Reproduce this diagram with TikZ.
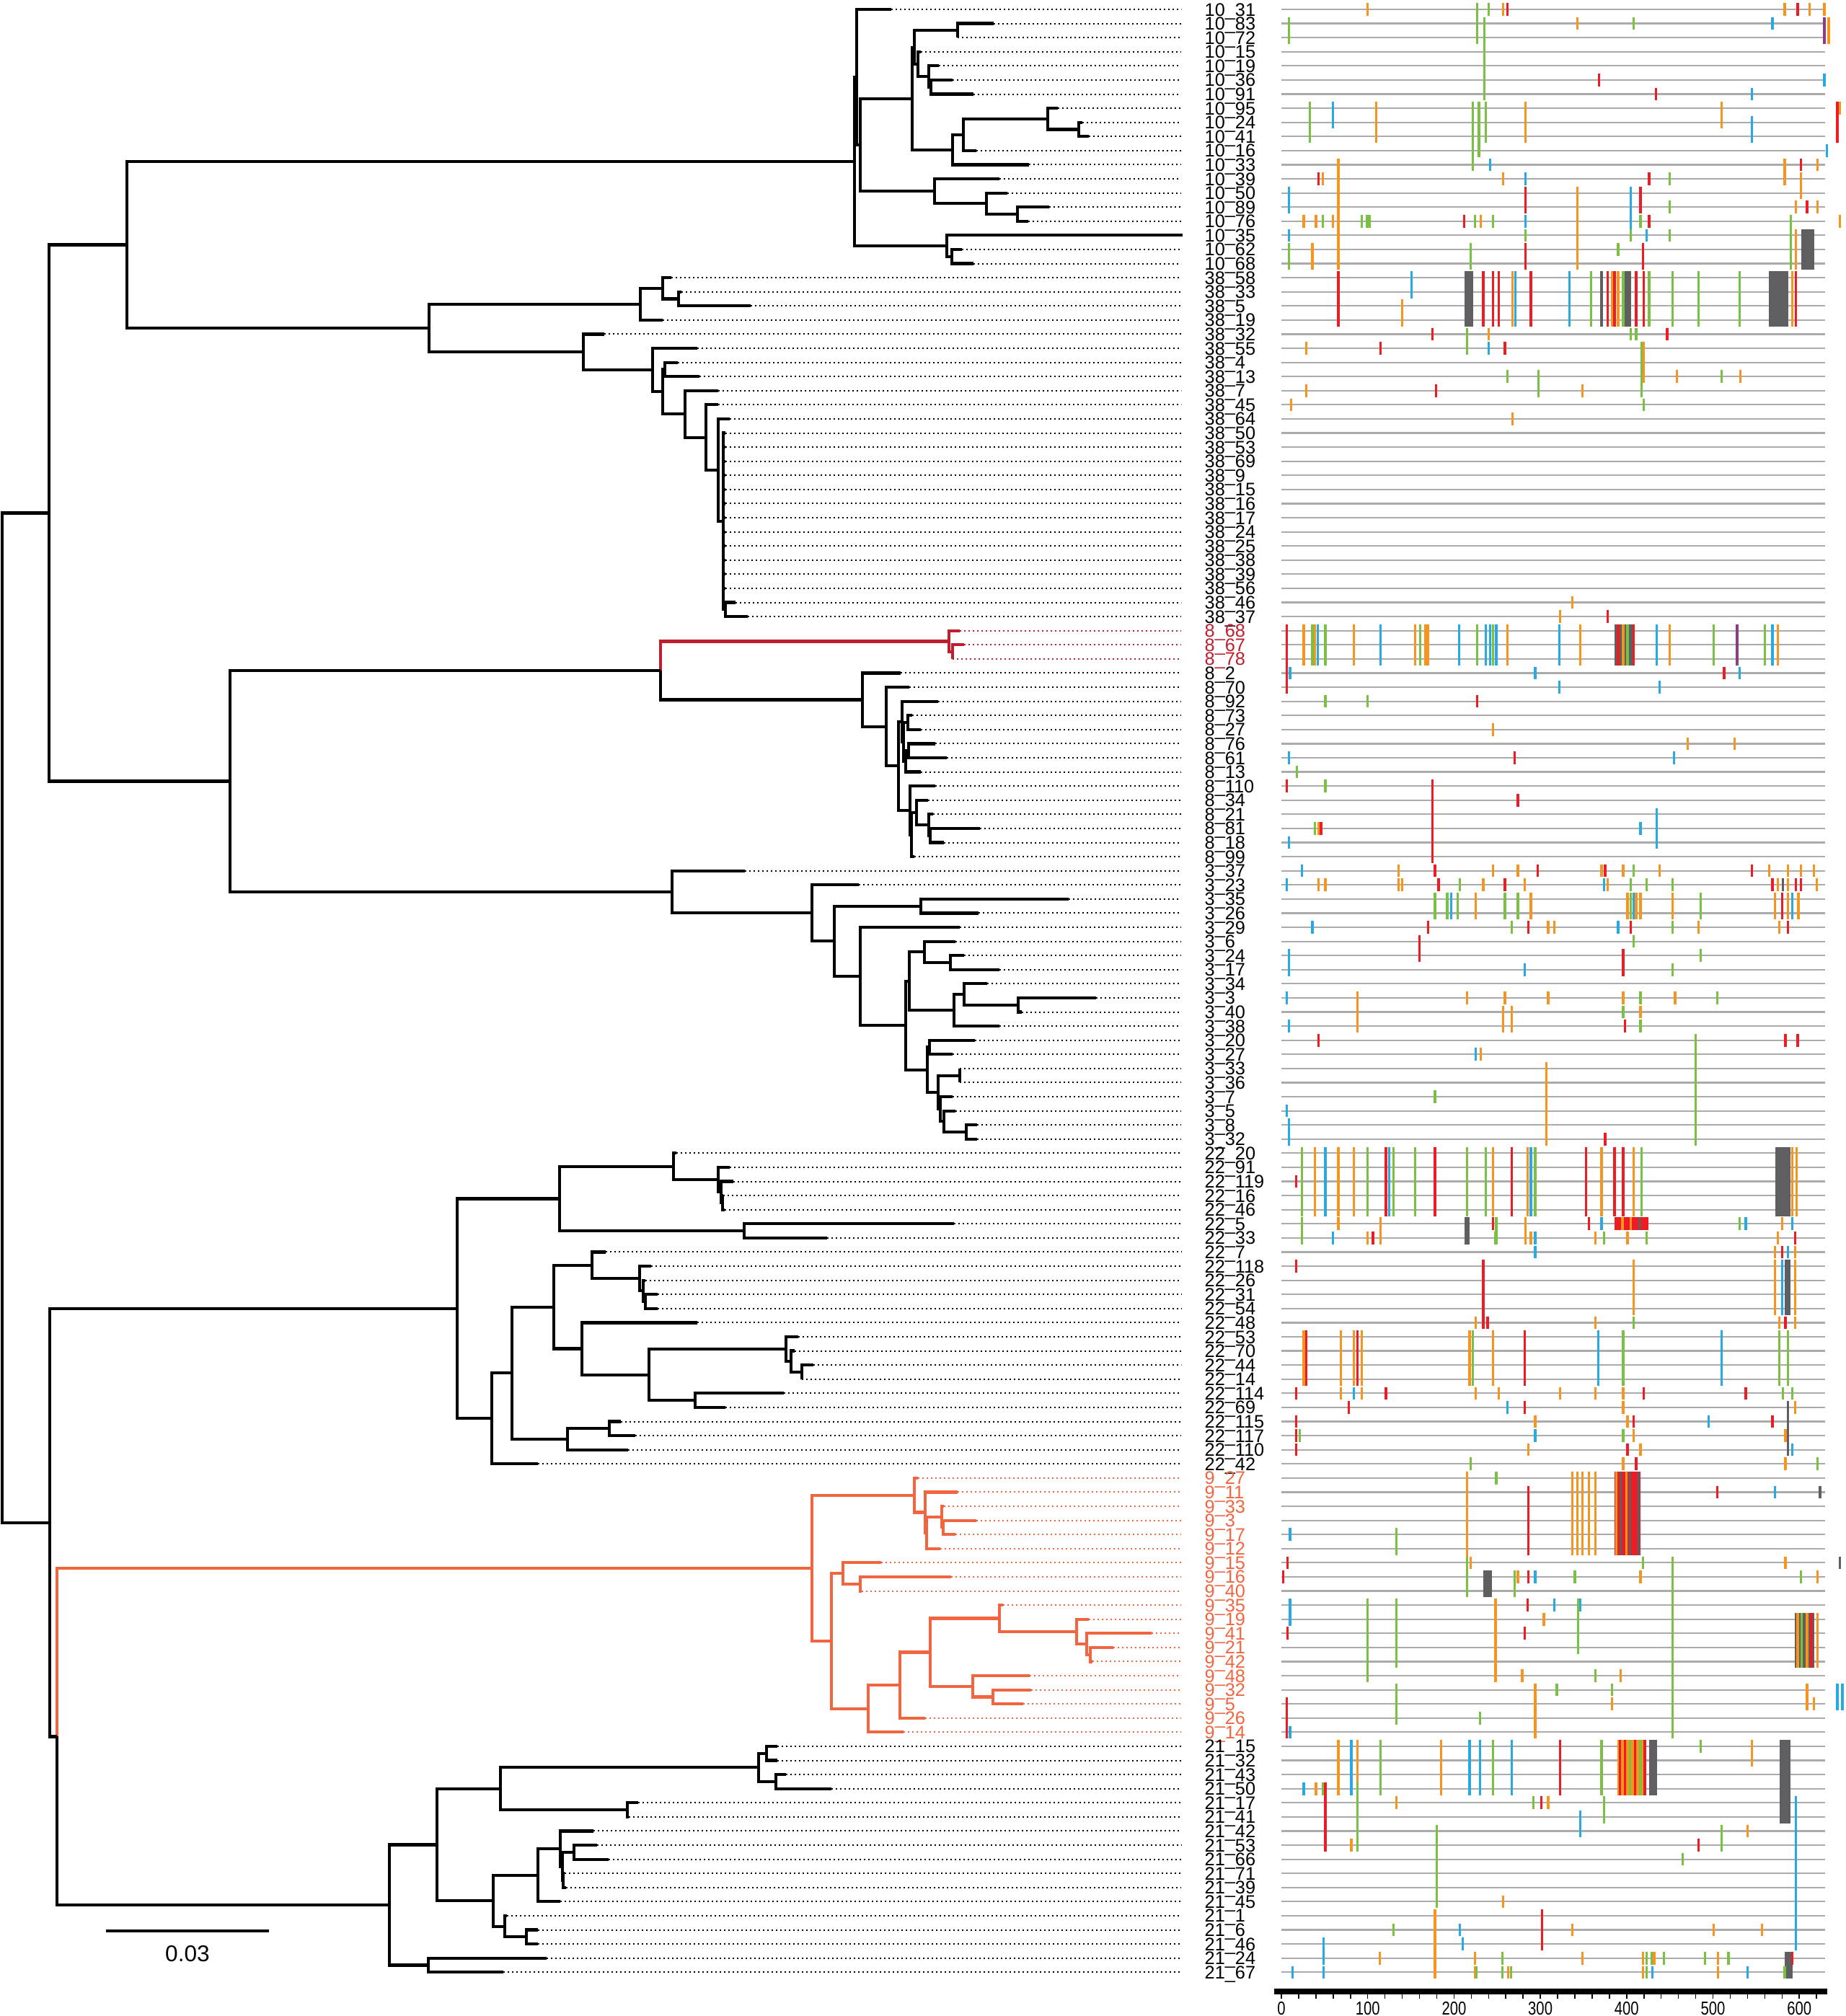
\documentclass[tikz,border=0pt]{standalone}
\usepackage{fontspec}
\setmainfont{Liberation Sans}
\newfontfamily\axisfont[FakeStretch=0.78]{Liberation Sans}
\usetikzlibrary{calc}

\definecolor{treered}{RGB}{190,30,45}
\definecolor{treeorange}{RGB}{241,101,65}
\definecolor{aO}{RGB}{247,148,29}
\definecolor{aG}{RGB}{122,193,66}
\definecolor{aB}{RGB}{39,170,225}
\definecolor{aR}{RGB}{237,28,36}
\definecolor{aK}{RGB}{95,95,97}
\definecolor{aP}{RGB}{140,60,130}

\tikzset{
  branch/.style={line width=0.42mm},
  leafdots/.style={line width=0.2mm, dash pattern=on 0.2mm off 0.4mm},
  leaflabel/.style={anchor=base west, inner sep=0pt, font=\fontsize{7.2}{8}\selectfont},
  seqline/.style={line width=0.22mm, draw=black!33},
  seqtick/.style={line width=0.33mm},
  axislabel/.style={inner sep=0pt, font=\axisfont\fontsize{7.4}{8}\selectfont},
}

% internal node: name, x, upper child, lower child (option = colour of upper half)
\newcommand\nd[5][]{%
  \coordinate (#2m) at ($(#4)!.5!(#5)$);
  \coordinate (#2) at (perpendicular cs: horizontal line through={(#2m)}, vertical line through={(#3,0)});
  \draw[branch,#1] (#4) -| (#2);
  \draw[branch] (#2) |- (#5);
}

\begin{document}
\begin{tikzpicture}[x=0.1mm, y=-1.9585mm]
\useasboundingbox (0,0.336) rectangle (2559,143.1);

% leaves
\foreach \tp/\cl/\nm [count=\i] in {1236/10/31,1378/10/83,1328/10/72,1277/10/15,1302/10/19,1321/10/36,1350/10/91,1467/10/95,1501/10/24,1510/10/41,1354/10/16,1427/10/33,1386/10/39,1397/10/50,1455/10/89,1426/10/76,1640/10/35,1334/10/62,1350/10/68,
  931/38/58,945/38/33,1041/38/5,919/38/19,838/38/32,967/38/55,940/38/4,970/38/13,996/38/7,996/38/45,1012/38/64,1006/38/50,1006/38/53,1006/38/69,1006/38/9,1006/38/15,1006/38/16,1006/38/17,1006/38/24,1006/38/25,1006/38/38,1006/38/39,1006/38/56,1020/38/46,1037/38/37}{
  \coordinate (L\i) at (\tp,\i);
  \draw[leafdots] (L\i) -- (1638,\i);
  \node[leaflabel] (T\i) at (1670,\i+.46) {\cl\_\nm};
}
\begin{scope}[treered]
\foreach \tp/\nm [count=\i from 45] in {1331/68,1337/67,1321/78}{
  \coordinate (L\i) at (\tp,\i);
  \draw[leafdots] (L\i) -- (1638,\i);
  \node[leaflabel] (T\i) at (1670,\i+.46) {8\_\nm};
}
\end{scope}
\foreach \tp/\cl/\nm [count=\i from 48] in {1249/8/2,1261/8/70,1301/8/92,1265/8/73,1277/8/27,1297/8/76,1313/8/61,1277/8/13,1297/8/110,1287/8/34,1294/8/21,1359/8/81,1309/8/18,1268/8/99,
  1033/3/37,1191/3/23,1482/3/35,1357/3/26,1331/3/29,1325/3/6,1337/3/24,1386/3/17,1369/3/34,1520/3/3,1417/3/40,1386/3/38,1352/3/20,1321/3/27,1331/3/33,1331/3/36,1321/3/7,1325/3/5,1355/3/8,1355/3/32,
  938/22/20,1012/22/91,1017/22/119,1003/22/16,1005/22/46,1323/22/5,1147/22/33,840/22/7,903/22/118,895/22/26,912/22/31,912/22/54,967/22/48,1107/22/53,1102/22/70,1128/22/44,1112/22/14,1087/22/114,1006/22/69,861/22/115,881/22/117,871/22/110,746/22/42}{
  \coordinate (L\i) at (\tp,\i);
  \draw[leafdots] (L\i) -- (1638,\i);
  \node[leaflabel] (T\i) at (1670,\i+.46) {\cl\_\nm};
}
\begin{scope}[treeorange]
\foreach \tp/\nm [count=\i from 105] in {1273/27,1328/11,1309/33,1354/3,1325/17,1304/12,1222/15,1319/16,1195/40,1391/35,1510/19,1597/41,1544/21,1515/42,1428/48,1430/32,1419/5,1283/26,1253/14}{
  \coordinate (L\i) at (\tp,\i);
  \draw[leafdots] (L\i) -- (1638,\i);
  \node[leaflabel] (T\i) at (1670,\i+.46) {9\_\nm};
}
\end{scope}
\foreach \tp/\cl/\nm [count=\i from 124] in {1078/21/15,1078/21/32,1090/21/43,1153/21/50,885/21/17,872/21/41,823/21/42,828/21/53,844/21/66,783/21/71,785/21/39,777/21/45,703/21/1,746/21/6,746/21/46,758/21/24,698/21/67}{
  \coordinate (L\i) at (\tp,\i);
  \draw[leafdots] (L\i) -- (1638,\i);
  \node[leaflabel] (T\i) at (1670,\i+.46) {\cl\_\nm};
}

% clade 10
\nd{n6x7}{1291}{L6}{L7}
\nd{n5x7}{1288}{L5}{n6x7}
\nd{n4x7}{1273}{L4}{n5x7}
\nd{n2x3}{1328}{L2}{L3}
\nd{n2x7}{1268}{n2x3}{n4x7}
\nd{n9x10}{1496}{L9}{L10}
\nd{n8x10}{1453}{L8}{n9x10}
\nd{n8x11}{1336}{n8x10}{L11}
\nd{n8x12}{1321}{n8x11}{L12}
\nd{n2x12}{1265}{n2x7}{n8x12}
\nd{n15x16}{1411}{L15}{L16}
\nd{n14x16}{1368}{L14}{n15x16}
\nd{n13x16}{1296}{L13}{n14x16}
\nd{n2x16}{1193}{n2x12}{n13x16}
\nd{n1x16}{1188}{L1}{n2x16}
\nd{n18x19}{1320}{L18}{L19}
\nd{n17x19}{1313}{L17}{n18x19}
\nd{n1x19}{1185}{n1x16}{n17x19}

% clade 38
\nd{n21x22}{941}{L21}{L22}
\nd{n20x22}{919}{L20}{n21x22}
\nd{n20x23}{888}{n20x22}{L23}
\nd{n26x27}{922}{L26}{L27}
\nd{n43x44}{1006}{L43}{L44}
\nd{n31x44}{1003}{L31}{n43x44}
\foreach \k in {32,...,42} \draw[branch] (n31x44 |- L\k) -- (L\k);
\nd{n30x44}{996}{L30}{n31x44}
\nd{n29x44}{979}{L29}{n30x44}
\nd{n28x44}{950}{L28}{n29x44}
\nd{n26x44}{919}{n26x27}{n28x44}
\nd{n25x44}{905}{L25}{n26x44}
\nd{n24x44}{809}{L24}{n25x44}
\nd{n20x44}{595}{n20x23}{n24x44}
\nd{n1x44}{176}{n1x19}{n20x44}

% clade 8
\begin{scope}[treered]
\nd{n46x47}{1321}{L46}{L47}
\nd{n45x47}{1316}{L45}{n46x47}
\end{scope}
\nd{n51x52}{1259}{L51}{L52}
\nd{n53x54}{1260}{L53}{L54}
\nd{n53x55}{1256}{n53x54}{L55}
\nd{n51x55}{1253}{n51x52}{n53x55}
\nd{n50x55}{1251}{L50}{n51x55}
\nd{n59x60}{1290}{L59}{L60}
\nd{n58x60}{1288}{L58}{n59x60}
\nd{n57x60}{1271}{L57}{n58x60}
\nd{n57x61}{1264}{n57x60}{L61}
\nd{n56x61}{1262}{L56}{n57x61}
\nd{n50x61}{1246}{n50x55}{n56x61}
\nd{n49x61}{1229}{L49}{n50x61}
\nd{n48x61}{1196}{L48}{n49x61}
\nd[treered]{n45x61}{916}{n45x47}{n48x61}

% clade 3
\nd{n64x65}{1277}{L64}{L65}
\nd{n68x69}{1318}{L68}{L69}
\nd{n67x69}{1282}{L67}{n68x69}
\nd{n71x72}{1412}{L71}{L72}
\nd{n70x72}{1337}{L70}{n71x72}
\nd{n70x73}{1323}{n70x72}{L73}
\nd{n67x73}{1261}{n67x69}{n70x73}
\nd{n74x75}{1289}{L74}{L75}
\nd{n76x77}{1331}{L76}{L77}
\nd{n80x81}{1340}{L80}{L81}
\nd{n79x81}{1309}{L79}{n80x81}
\nd{n78x81}{1304}{L78}{n79x81}
\nd{n76x81}{1301}{n76x77}{n78x81}
\nd{n74x81}{1286}{n74x75}{n76x81}
\nd{n67x81}{1256}{n67x73}{n74x81}
\nd{n66x81}{1193}{L66}{n67x81}
\nd{n64x81}{1157}{n64x65}{n66x81}
\nd{n63x81}{1126}{L63}{n64x81}
\nd{n62x81}{932}{L62}{n63x81}
\nd{n45x81}{319}{n45x61}{n62x81}
\nd{n1x81}{68}{n1x44}{n45x81}

% clade 22
\nd{n85x86}{1002}{L85}{L86}
\nd{n84x86}{1000}{L84}{n85x86}
\nd{n83x86}{996}{L83}{n84x86}
\nd{n82x86}{934}{L82}{n83x86}
\nd{n87x88}{1032}{L87}{L88}
\nd{n82x88}{776}{n82x86}{n87x88}
\nd{n92x93}{895}{L92}{L93}
\nd{n91x93}{892}{L91}{n92x93}
\nd{n90x93}{887}{L90}{n91x93}
\nd{n89x93}{821}{L89}{n90x93}
\nd{n97x98}{1112}{L97}{L98}
\nd{n96x98}{1097}{L96}{n97x98}
\nd{n95x98}{1090}{L95}{n96x98}
\nd{n99x100}{964}{L99}{L100}
\nd{n95x100}{900}{n95x98}{n99x100}
\nd{n94x100}{807}{L94}{n95x100}
\nd{n89x100}{768}{n89x93}{n94x100}
\nd{n101x102}{845}{L101}{L102}
\nd{n101x103}{787}{n101x102}{L103}
\nd{n89x103}{710}{n89x100}{n101x103}
\nd{n89x104}{682}{n89x103}{L104}
\nd{n82x104}{634}{n82x88}{n89x104}

% clade 9
\begin{scope}[treeorange]
\nd{n108x109}{1308}{L108}{L109}
\nd{n107x109}{1306}{L107}{n108x109}
\nd{n107x110}{1285}{n107x109}{L110}
\nd{n106x110}{1283}{L106}{n107x110}
\nd{n105x110}{1268}{L105}{n106x110}
\nd{n112x113}{1193}{L112}{L113}
\nd{n111x113}{1169}{L111}{n112x113}
\nd{n117x118}{1512}{L117}{L118}
\nd{n116x118}{1507}{L116}{n117x118}
\nd{n115x118}{1493}{L115}{n116x118}
\nd{n114x118}{1386}{L114}{n115x118}
\nd{n120x121}{1377}{L120}{L121}
\nd{n119x121}{1349}{L119}{n120x121}
\nd{n114x121}{1290}{n114x118}{n119x121}
\nd{n114x122}{1248}{n114x121}{L122}
\nd{n114x123}{1204}{n114x122}{L123}
\nd{n111x123}{1153}{n111x113}{n114x123}
\nd{n105x123}{1126}{n105x110}{n111x123}
\end{scope}

% clade 21
\nd{n124x125}{1063}{L124}{L125}
\nd{n126x127}{1076}{L126}{L127}
\nd{n124x127}{1052}{n124x125}{n126x127}
\nd{n128x129}{870}{L128}{L129}
\nd{n124x129}{694}{n124x127}{n128x129}
\nd{n131x132}{796}{L131}{L132}
\nd{n133x134}{781}{L133}{L134}
\nd{n131x134}{780}{n131x132}{n133x134}
\nd{n130x134}{777}{L130}{n131x134}
\nd{n130x135}{746}{n130x134}{L135}
\nd{n137x138}{730}{L137}{L138}
\nd{n136x138}{700}{L136}{n137x138}
\nd{n130x138}{684}{n130x135}{n136x138}
\nd{n124x138}{606}{n124x129}{n130x138}
\nd{n139x140}{594}{L139}{L140}
\nd{n124x140}{540}{n124x138}{n139x140}
\nd[treeorange]{n105x140}{79}{n105x123}{n124x140}
\nd{n82x140}{69}{n82x104}{n105x140}
\nd{n1x140}{3}{n1x81}{n82x140}

% scale bar
\coordinate (sb1) at (147,137.07);
\coordinate (sb2) at (373,137.07);
\draw[branch] (sb1) -- node[below=1.8mm, inner sep=0pt, font=\fontsize{9}{10}\selectfont] (sbl) {0.03} (sb2);

% alignment panel
\begin{scope}[xshift=177.7mm, x=0.1197mm]
\foreach \i in {1,...,140} \draw[seqline] (0,\i) -- (630,\i);
% blocks
\foreach \cl/\p/\q/\ra/\rb in {aK/602/617/17/19,aK/212/222/20/23,aK/398/405/20/23,aK/565/587/20/23,
  aK/386/408/45/47,aK/572/590/82/86,aK/212/218/87/88,aR/386/425/87/87,aK/583/590/90/93,
  aR/386/416/105/110,aK/234/244/112/113,aK/595/617/115/118,
  aO/389/423/124/127,aK/426/435/124/127,aK/577/590/124/129,aK/583/592/139/140}
  \fill[\cl] (\p,\ra-.45) rectangle (\q,\rb+.45);
% ticks
\foreach \cl/\p/\ra/\rb in {
  aO/100/1/1,aG/227/1/3,aG/240/1/1,aO/257/1/1,aR/262/1/1,aO/583/1/1,aR/598/1/1,aO/612/1/1,aO/629/1/1,
  aG/9/2/3,aO/343/2/2,aG/408/2/2,aB/569/2/2,aP/629/2/3,aO/634/2/3,
  aG/235/2/7,aR/368/6/6,aB/629/6/6,aR/434/7/7,aB/545/7/7,
  aG/33/8/10,aB/60/8/9,aO/110/8/10,aG/222/8/12,aG/229/8/11,aG/237/8/10,aO/283/8/10,aO/510/8/9,aB/545/9/10,aR/644/8/10,aO/647/8/8,
  aB/632/11/11,aB/242/12/12,aO/66/12/19,aO/583/12/13,aR/602/12/12,aO/621/12/12,
  aR/43/13/13,aO/48/13/13,aO/257/13/13,aB/283/13/13,aR/426/13/13,aG/450/13/13,aO/602/13/14,
  aB/9/14/15,aR/283/14/15,aO/343/14/19,aB/405/14/17,aR/416/14/15,aG/450/15/15,aO/596/15/15,aR/609/15/15,aO/621/15/15,
  aO/26/16/16,aO/40/16/16,aG/48/16/16,aO/60/16/16,aG/93/16/16,aG/99/16/16,aG/102/16/16,aR/212/16/16,aG/224/16/16,aO/231/16/16,aG/245/16/16,aB/283/16/16,aG/416/16/16,aR/426/16/16,aO/647/16/16,
  aB/9/17/17,aG/283/17/17,aG/405/17/17,aB/423/17/17,aG/450/17/17,
  aG/9/18/19,aO/36/18/19,aG/219/18/19,aR/283/18/19,aG/390/18/18,aR/419/18/19,aG/590/16/19,aO/596/17/19,
  aR/66/20/23,aB/151/20/21,aO/140/22/23,aR/234/20/23,aR/245/20/23,aR/252/20/23,aO/268/20/23,aB/271/20/23,aR/289/20/23,aB/334/20/23,aG/359/20/23,aK/371/20/23,
  aR/378/20/23,aO/383/20/23,aR/386/20/23,aO/390/20/23,aG/396/20/23,aR/411/20/23,aR/420/20/23,aG/426/20/23,aG/453/20/23,aG/483/20/23,aG/531/20/23,aO/592/20/23,aR/596/20/23,
  aR/175/24/24,aG/215/24/25,aO/240/24/24,aG/405/24/24,aG/411/24/24,aR/447/24/24,
  aO/29/25/25,aR/115/25/25,aB/240/25/25,aR/259/25/25,aG/417/25/28,aO/420/25/27,
  aG/262/27/27,aG/298/27/28,aO/458/27/27,aG/510/27/27,aO/532/27/27,
  aO/29/28/28,aR/179/28/28,aO/349/28/28,aO/11/29/29,aG/420/29/29,aO/268/30/30,aO/337/43/43,aO/323/44/44,aR/378/44/44,
  aR/6/45/49,aB/10/48/48,
  aO/26/45/47,aG/36/45/47,aO/39/45/47,aB/42/45/47,aG/51/45/47,aO/84/45/47,aB/115/45/47,aO/155/45/47,aG/161/45/47,aO/167/45/47,aO/170/45/47,aB/206/45/47,aG/227/45/47,
  aB/237/45/47,aB/242/45/47,aG/245/45/47,aB/249/45/47,aO/262/45/47,aB/322/45/47,aO/346/45/47,aR/390/45/47,aO/396/45/47,aG/401/45/47,aR/408/45/47,
  aB/435/45/47,aO/450/45/47,aG/501/45/47,aP/528/45/47,aG/560/45/47,aB/569/45/47,aO/575/45/47,
  aB/294/48/48,aR/513/48/48,aB/531/48/48,aB/322/49/49,aB/438/49/49,
  aG/51/50/50,aG/100/50/50,aR/227/50/50,aO/245/52/52,aO/471/53/53,aO/525/53/53,
  aB/9/54/54,aR/270/54/54,aB/455/54/54,aG/18/55/55,aR/6/56/56,aG/51/56/56,aR/274/57/57,
  aR/175/56/61,aG/39/59/59,aO/43/59/59,aR/46/59/59,aB/9/60/60,aB/416/59/59,aB/435/58/60,
  aB/24/62/62,aO/136/62/62,aR/178/62/62,aO/245/62/62,aO/274/62/62,aR/297/62/62,aO/371/62/62,aR/375/62/62,aO/396/62/62,aG/408/62/62,aO/438/62/62,aR/545/62/62,aO/565/62/62,aO/587/62/62,aO/602/62/62,aO/617/62/62,
  aB/6/63/63,aO/43/63/63,aO/51/63/63,aO/136/63/63,aO/140/63/63,aR/182/63/63,aG/207/63/63,aO/234/63/63,aR/259/63/63,aO/282/63/63,aB/374/63/63,aO/378/63/63,
  aG/405/63/63,aG/423/63/63,aG/453/63/63,aR/569/63/63,aO/575/63/63,aK/581/63/63,aO/587/63/63,aR/596/63/63,aR/602/63/63,aO/620/63/63,
  aG/178/64/65,aG/192/64/65,aB/197/64/65,aG/204/64/65,aO/225/64/65,aG/259/64/65,aG/274/64/65,aO/289/64/65,aO/401/64/65,aG/405/64/65,aB/408/64/65,aO/411/64/65,
  aO/416/64/65,aO/453/64/65,aG/486/64/65,aO/572/64/65,aR/580/64/65,aO/587/64/65,aB/592/64/65,aO/599/64/65,
  aB/36/66/66,aR/170/66/66,aG/267/66/66,aR/286/66/66,aO/309/66/66,aO/316/66/66,aB/390/66/66,aR/405/66/66,aG/453/66/66,aO/483/66/66,aO/577/66/66,aR/587/66/66,
  aR/160/67/68,aG/408/67/67,aB/9/68/69,aR/396/68/69,aG/486/68/68,aB/282/69/69,aG/453/69/69,
  aB/6/71/71,aO/88/71/73,aO/215/71/71,aO/259/71/71,aO/309/71/71,aO/396/71/71,aG/416/71/71,aO/456/71/71,aG/505/71/71,
  aO/257/72/73,aO/267/72/73,aG/396/72/72,aO/416/72/72,aB/9/73/73,aR/398/73/73,aG/416/73/73,
  aR/43/74/74,aR/584/74/74,aR/598/74/74,aB/225/75/75,aO/231/75/75,aG/480/74/81,aO/307/76/81,aG/178/78/78,
  aB/6/79/79,aB/9/80/81,aR/375/81/81,
  aG/24/82/86,aR/17/84/84,aO/39/82/86,aB/51/82/86,aO/66/82/86,aO/84/82/86,aG/100/82/86,aR/121/82/86,aB/125/82/86,aG/130/82/86,aG/155/82/86,aR/178/82/86,
  aG/215/82/86,aG/237/82/86,aO/245/82/86,aR/267/82/86,aO/285/82/86,aB/289/82/86,aG/294/82/86,aR/353/82/86,aO/371/82/86,aR/386/82/86,aR/396/82/86,
  aO/408/82/86,aG/417/82/86,aO/592/82/86,aO/597/82/86,
  aG/24/87/88,aO/66/87/87,aO/115/87/88,aR/245/87/87,aG/249/87/88,aO/283/87/88,aR/356/87/87,aB/371/87/87,aO/395/87/87,aO/405/87/87,aK/415/87/87,
  aG/531/87/87,aB/538/87/87,aO/580/87/87,aB/592/87/87,
  aB/60/88/88,aO/100/88/88,aR/106/88/88,aG/248/88/88,aO/289/88/88,aB/294/88/88,aO/364/88/88,aG/374/88/88,aO/401/88/88,aG/423/88/88,aO/575/88/88,aR/595/88/88,
  aB/294/89/89,aO/572/89/89,aR/580/89/89,aB/587/89/89,aO/595/89/89,
  aR/17/90/90,aR/234/90/94,aO/408/90/93,aO/572/90/93,aB/580/90/93,aO/595/90/93,
  aO/225/94/94,aR/239/94/94,aO/364/94/94,aG/408/94/94,aO/577/94/94,aR/584/94/94,aO/595/94/94,
  aO/26/95/98,aR/29/95/98,aO/69/95/98,aO/84/95/98,aR/88/95/98,aO/93/95/98,aO/218/95/98,aG/222/95/98,aO/245/95/98,aR/282/95/98,aB/367/95/98,aG/396/95/98,
  aB/510/95/98,aG/577/95/98,aG/587/95/98,
  aR/17/99/99,aO/69/99/99,aB/84/99/99,aO/93/99/99,aR/121/99/99,aO/225/99/99,aO/252/99/99,aO/323/99/99,aO/364/99/99,aO/396/99/99,aR/420/99/99,aR/538/99/99,
  aG/581/99/99,aG/592/99/99,
  aR/78/100/100,aB/262/100/100,aR/282/100/100,aO/396/100/100,aO/595/100/100,
  aR/17/101/101,aO/294/101/101,aO/401/101/101,aR/408/101/101,aB/495/101/101,aR/569/101/101,aK/587/100/103,
  aR/17/102/102,aG/21/102/102,aB/294/102/102,aG/396/102/102,aO/408/102/102,aO/584/102/102,
  aR/17/103/103,aO/286/103/103,aR/401/103/103,aO/416/103/103,aB/592/103/103,
  aG/219/104/104,aO/396/104/104,aR/411/104/104,aO/584/104/104,aG/621/104/104,
  aK/393/105/110,aK/404/105/110,aO/388/105/110,aO/400/105/110,aK/414/105/110,aO/215/105/111,
  aO/337/105/110,aO/343/105/110,aO/349/105/110,aO/356/105/110,aO/364/105/110,aR/286/106/110,aG/249/105/105,
  aR/505/106/106,aB/572/106/106,aK/624/106/106,aB/10/109/109,aG/133/109/110,
  aR/7/111/111,aG/215/111/113,aO/219/111/111,aG/419/111/111,aB/453/111/111,aO/584/111/111,aK/647/111/111,
  aR/2/112/112,aG/270/112/113,aO/274/112/112,aR/286/112/112,aB/294/112/112,aG/340/112/112,aO/416/112/112,aG/602/112/112,aO/621/112/112,
  aG/453/111/123,aB/10/114/115,aG/100/114/119,aG/133/114/118,aO/248/114/119,aG/344/114/117,aB/346/114/114,
  aR/285/114/114,aB/316/114/114,aO/304/115/115,aR/7/116/116,aR/282/116/116,
  aO/598/115/118,aG/603/115/118,aO/609/115/118,aR/614/115/118,aO/621/115/118,
  aO/279/119/119,aG/364/119/119,aO/393/119/119,
  aO/294/120/123,aG/319/120/120,aG/383/120/120,aO/609/120/121,aB/644/120/121,aB/650/120/121,
  aG/133/120/122,aR/6/121/123,aO/383/121/121,aO/617/121/121,aG/230/122/122,aB/10/123/123,
  aO/66/124/127,aB/81/124/127,aO/88/124/127,aG/115/124/127,aO/185/124/127,aB/218/124/127,aB/230/124/127,aG/245/124/127,aB/267/124/127,aR/323/124/127,aG/371/124/127,
  aR/392/124/127,aR/398/124/127,aG/404/124/127,aR/410/124/127,aG/416/124/127,aR/421/124/127,aG/486/124/124,aO/545/124/125,
  aB/26/127/127,aO/40/127/127,aG/48/127/127,aR/51/127/131,aG/88/127/131,
  aO/133/128/128,aG/292/128/128,aR/301/128/128,aO/309/128/128,aB/346/129/130,aG/374/128/129,
  aG/510/130/131,aO/540/130/130,aO/81/131/131,aR/483/131/131,aG/465/132/132,
  aG/180/130/135,aO/178/136/140,aB/596/128/138,aO/257/135/135,
  aG/130/137/137,aB/207/137/137,aO/337/137/137,aO/501/137/137,aO/557/137/137,aR/302/136/138,
  aB/49/138/139,aB/210/138/138,
  aO/114/139/139,aO/224/139/139,aG/256/139/139,aO/349/139/139,aO/419/139/139,aG/423/139/139,aG/429/139/139,aO/432/139/139,aG/443/139/139,aG/491/139/139,
  aO/506/139/139,aG/518/139/139,aR/592/139/139,
  aB/13/140/140,aB/49/140/140,aO/224/140/140,aG/226/140/140,aG/256/140/140,aO/263/140/140,aG/266/140/140,aO/419/140/140,aG/423/140/140,aB/430/140/140,
  aO/506/140/140,aB/540/140/140,aG/583/140/140}
  \draw[seqtick,\cl] (\p,\ra-.45) -- (\p,\rb+.45);

% axis
\coordinate (ax0) at (-8,141.35);
\coordinate (ax1) at (632,141.35);
\draw[line width=0.75mm] (ax0) -- (ax1);
\foreach \p in {0,20,...,620} \draw[line width=0.15mm] (\p,141.35) -- (\p,141.85);
\foreach \p in {0,100,...,600} \node[axislabel] (X\p) at (\p,142.55) {\p};
\end{scope}
\end{tikzpicture}
\end{document}
